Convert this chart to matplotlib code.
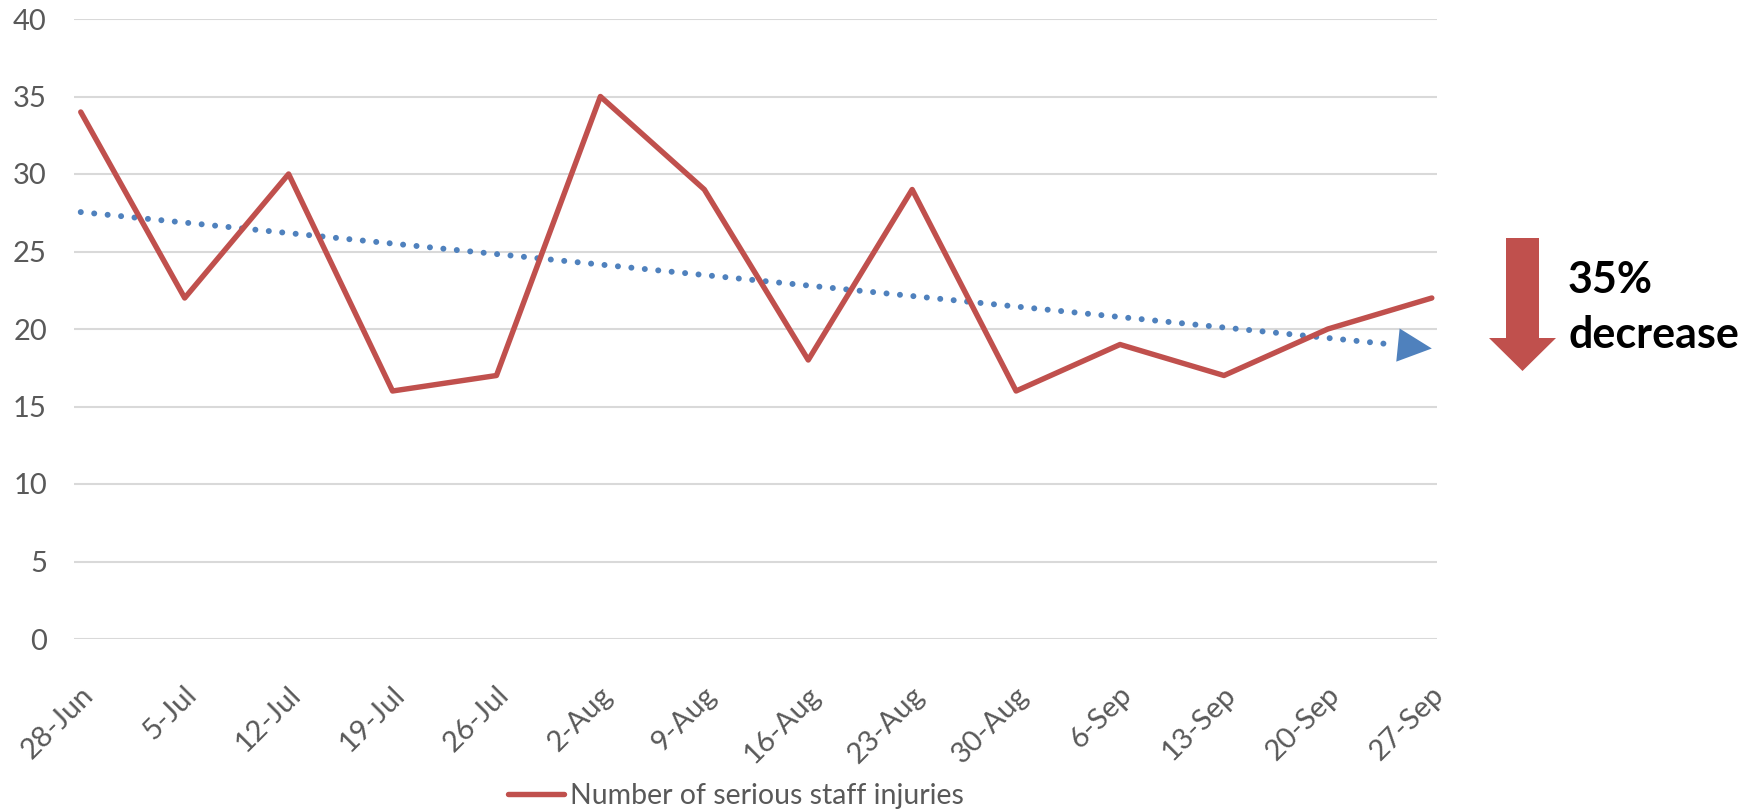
import numpy as np
import matplotlib
matplotlib.use("Agg")
import matplotlib.pyplot as plt
from matplotlib.patches import Polygon
import matplotlib.transforms as mtransforms

plt.rcParams['font.family'] = ['Lato', 'DejaVu Sans']

dates = ["28-Jun", "5-Jul", "12-Jul", "19-Jul", "26-Jul", "2-Aug", "9-Aug",
         "16-Aug", "23-Aug", "30-Aug", "6-Sep", "13-Sep", "20-Sep", "27-Sep"]
injuries = [34, 22, 30, 16, 17, 35, 29, 18, 29, 16, 19, 17, 20, 22]
y_ticks = [0, 5, 10, 15, 20, 25, 30, 35, 40]
series_label = "Number of serious staff injuries"
note_pct = "35%"
note_word = "decrease"

RED = "#C0504D"
BLUE = "#4F81BD"
GRAY_TXT = "#595959"
GRID = "#D9D9D9"

W, H = 1761, 811
fig = plt.figure(figsize=(W / 100, H / 100), dpi=100)

def fx(px):
    return px / W

def fy(py):
    return 1 - py / H

left, right, top, bottom = 74, 1437, 19, 639
ax = fig.add_axes([fx(left), fy(bottom), fx(right - left), (bottom - top) / H])

x = np.arange(len(dates))
ax.set_xlim(-0.065, len(dates) - 1 + 0.05)
ax.set_ylim(0, 40)
ax.set_yticks(y_ticks)
for yt in y_ticks:
    ax.axhline(yt, color=GRID, lw=1.5, zorder=0)

ax.plot(x, injuries, color=RED, lw=3.9, solid_capstyle='round',
        solid_joinstyle='round', label=series_label, zorder=3)

# linear trendline
slope, intercept = np.polyfit(x, injuries, 1)
x_end = len(dates) - 1
x_dot_end = x_end - 0.34
xt = np.array([0, x_dot_end])
ax.plot(xt, slope * xt + intercept, color=BLUE, lw=4.3,
        linestyle=(0, (0.01, 2.25)), dash_capstyle='round', zorder=2)
ax.annotate('', xy=(x_end, slope * x_end + intercept),
            xytext=(x_dot_end, slope * x_dot_end + intercept),
            arrowprops=dict(arrowstyle='-|>,head_length=2.45,head_width=1.2',
                            mutation_scale=10, color=BLUE, lw=0,
                            shrinkA=0, shrinkB=0), zorder=2)

for s in ax.spines.values():
    s.set_visible(False)
ax.tick_params(axis='both', length=0, labelsize=21, labelcolor=GRAY_TXT)
ax.tick_params(axis='y', pad=19.5)
ax.set_xticks(x)
ax.set_xticklabels(dates, rotation=45, ha='right', va='center',
                   rotation_mode='anchor')
offset = mtransforms.ScaledTranslation(8 / 100, -47 / 100, fig.dpi_scale_trans)
for lab in ax.get_xticklabels():
    lab.set_transform(lab.get_transform() + offset)

fig.legend(loc='center', bbox_to_anchor=(fx(736), fy(796)), frameon=False,
           fontsize=20.5, handlelength=1.95, handletextpad=0.2,
           labelcolor=GRAY_TXT, borderpad=0)

# big red down arrow
arrow_px = [(1506, 238), (1539, 238), (1539, 338), (1556, 338),
            (1522.5, 371), (1489, 338), (1506, 338)]
fig.patches.append(Polygon([(fx(a), fy(b)) for a, b in arrow_px], closed=True,
                           transform=fig.transFigure, facecolor=RED,
                           edgecolor='none'))
fig.text(fx(1568), fy(293), note_pct, fontsize=31, weight='bold',
         color='black', ha='left', va='baseline')
fig.text(fx(1568), fy(348), note_word, fontsize=31, weight='bold',
         color='black', ha='left', va='baseline')

fig.savefig("out.png", dpi=100)
